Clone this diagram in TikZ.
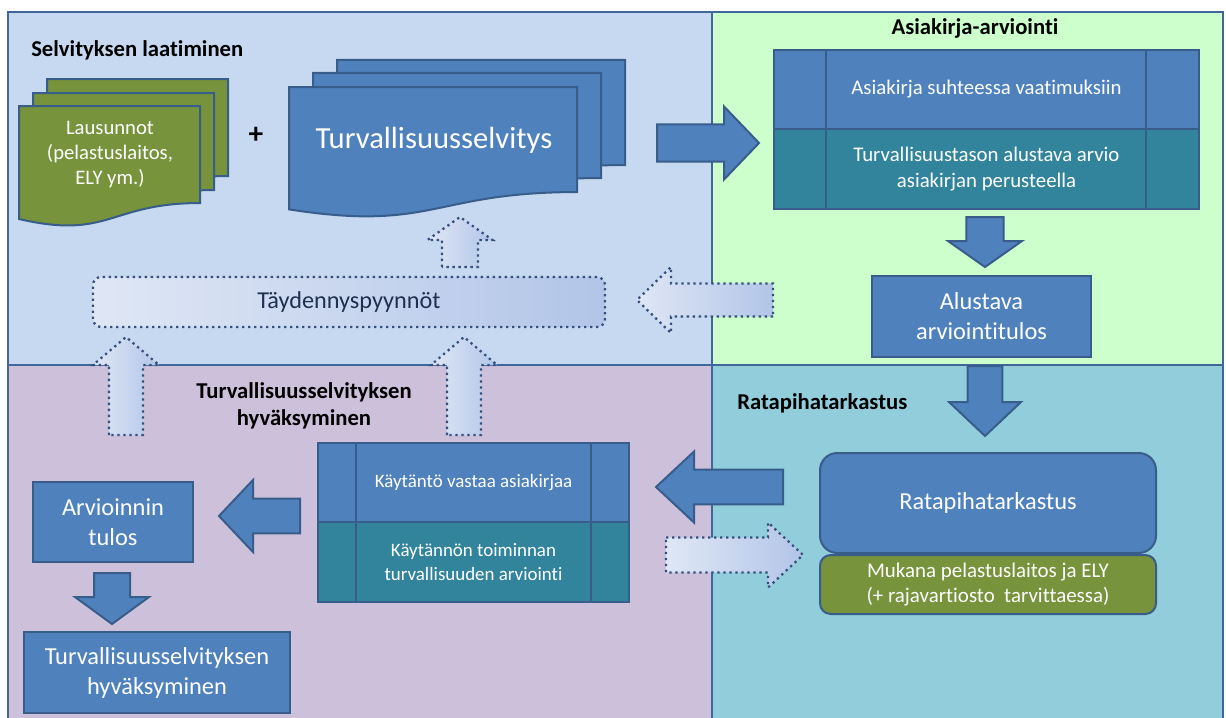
\documentclass[tikz,border=0pt]{standalone}
\usepackage{fontspec}
\setmainfont{Carlito}[Ligatures={NoCommon}]
\usetikzlibrary{calc}
\definecolor{tlback}{HTML}{C6D9F0}
\definecolor{trback}{HTML}{CCFFCC}
\definecolor{blback}{HTML}{CCC0DA}
\definecolor{brback}{HTML}{92CDDC}
\definecolor{frame}{HTML}{41679A}
\definecolor{boxblue}{HTML}{4F81BD}
\definecolor{boxteal}{HTML}{31849B}
\definecolor{boxgreen}{HTML}{77933C}
\definecolor{edge}{HTML}{385D8A}
\definecolor{dotedge}{HTML}{34507E}
\definecolor{fadeA}{HTML}{DFE7F5}
\definecolor{fadeB}{HTML}{B2C5E8}
\definecolor{dottext}{HTML}{1F3050}
% block arrow: [style]{from}{to}{shaft half}{head half}{head length}
\newcommand{\blockarrow}[6][]{%
  \coordinate (ah) at ($(#3)!#6!(#2)$);
  \draw[#1] ($(#2)!#4!90:(#3)$) -- ($(ah)!#4!90:(#3)$) -- ($(ah)!#5!90:(#3)$)
    -- (#3) -- ($(ah)!#5!-90:(#3)$) -- ($(ah)!#4!-90:(#3)$)
    -- ($(#2)!#4!-90:(#3)$) -- cycle;}
% document page with wavy bottom: {x}{y}{w}{h}{fill}
\newcommand{\docpage}[5]{%
  \draw[docline, fill=#5] (#1,#2) -- ({#1+#3},#2) -- ({#1+#3},{#2+0.802*#4})
    .. controls ({#1+0.5*#3},{#2+0.802*#4}) and ({#1+0.5*#3},{#2+1.1075*#4})
    .. (#1,{#2+0.934*#4}) -- cycle;}
\def\pxu{0.75pt}
\begin{document}
\begin{tikzpicture}[x=0.75pt, y=-0.75pt]
	\tikzset{
		title/.style={font=\fontsize{17}{20.5}\selectfont\bfseries, text=black, align=center, inner sep=0pt},
		zone/.style={draw=frame, line width=2.2pt},
		docline/.style={draw=edge, line width=1.5pt, line join=miter},
		cell/.style={draw=edge, line width=1.5pt, text=white, align=center, inner sep=0pt},
		bluebox/.style={cell, fill=boxblue, font=\fontsize{18.3}{22.5}\selectfont},
		solidarrow/.style={draw=edge, line width=1.5pt, fill=boxblue, line join=miter},
		dotarrow/.style={draw=dotedge, line width=1.7pt, dash pattern=on 1.7pt off 2.8pt,
			left color=fadeA, right color=fadeB},
	}
	\useasboundingbox (0,0) rectangle (1226,717);
	% --- 1. Taustat ja kehys ---
	\fill[tlback] (8,12) rectangle (712,365);
	\fill[trback] (712,12) rectangle (1223,365);
	\fill[blback] (8,365) rectangle (712,730);
	\fill[brback] (712,365) rectangle (1223,730);
	\draw[zone] (8,730) -- (8,12) -- (1223,12) -- (1223,730);
	\draw[zone] (712,12) -- (712,730);
	\draw[zone] (8,365) -- (1223,365);
	% --- 2. Selvityksen laatiminen ---
	\node[title, anchor=west] (tSelv) at (31,50) {Selvityksen laatiminen};
	\docpage{47}{79}{181}{121}{boxgreen}
	\docpage{33}{93}{181}{121}{boxgreen}
	\docpage{19}{106}{181}{121}{boxgreen}
	\node[text=white, align=center, font=\fontsize{15.5}{18.75}\selectfont] (lausu) at (110,155)
		{Lausunnot\\(pelastuslaitos,\\ELY ym.)};
	\node[font=\fontsize{22}{24}\selectfont\bfseries] (plus) at (256,135) {+};
	\docpage{337}{60}{288}{131}{boxblue}
	\docpage{313}{73}{288}{131}{boxblue}
	\docpage{289}{87}{288}{131}{boxblue}
	\node[text=white, font=\fontsize{23}{27}\selectfont] (tsel) at (434,140) {Turvallisuusselvitys};
	\node[draw=dotedge, line width=1.7pt, dash pattern=on 1.7pt off 2.8pt, rounded corners=6pt,
		left color=fadeA, right color=fadeB, text=dottext, font=\fontsize{18.2}{22}\selectfont,
		minimum width=512*\pxu, minimum height=50*\pxu] (tayd) at (349,302) {Täydennyspyynnöt};
	% --- 3. Asiakirja-arviointi ---
	\node[title] (tAsia) at (975,28) {Asiakirja-arviointi};
	\node[cell, fill=boxblue, font=\fontsize{15.6}{19.5}\selectfont,
		minimum width=425*\pxu, minimum height=79*\pxu] (asia1) at (986.5,89.5)
		{Asiakirja suhteessa vaatimuksiin};
	\node[cell, fill=boxteal, font=\fontsize{15.6}{19.5}\selectfont,
		minimum width=425*\pxu, minimum height=80*\pxu] (asia2) at (986.5,169)
		{Turvallisuustason alustava arvio\\asiakirjan perusteella};
	\draw[edge, line width=1.5pt] (826,50) -- (826,209);
	\draw[edge, line width=1.5pt] (1146,50) -- (1146,209);
	\node[bluebox, minimum width=219*\pxu, minimum height=81*\pxu] (alust) at (981.5,316.5)
		{Alustava\\arviointitulos};
	% --- 4. Ratapihatarkastus ---
	\node[title, anchor=west] (tRata) at (737,403) {Ratapihatarkastus};
	\node[bluebox, rounded corners=13pt, minimum width=336*\pxu, minimum height=100*\pxu]
		(rata) at (988,503) {Ratapihatarkastus};
	\node[cell, fill=boxgreen, rounded corners=8pt, font=\fontsize{15.7}{19}\selectfont,
		minimum width=336*\pxu, minimum height=59*\pxu] (muka) at (988,584.5)
		{Mukana pelastuslaitos ja ELY\\(+ rajavartiosto\ \ tarvittaessa)};
	% --- 5. Turvallisuusselvityksen hyväksyminen ---
	\node[title] (tHyv) at (304,406) {Turvallisuusselvityksen\\hyväksyminen};
	\node[cell, fill=boxblue, font=\fontsize{14.2}{18}\selectfont,
		minimum width=311*\pxu, minimum height=79*\pxu] (kay1) at (473.5,482.5)
		{Käytäntö vastaa asiakirjaa};
	\node[cell, fill=boxteal, font=\fontsize{14.2}{18}\selectfont,
		minimum width=311*\pxu, minimum height=80*\pxu] (kay2) at (473.5,562)
		{Käytännön toiminnan\\turvallisuuden arviointi};
	\draw[edge, line width=1.5pt] (356,443) -- (356,602);
	\draw[edge, line width=1.5pt] (591,443) -- (591,602);
	\node[bluebox, minimum width=160*\pxu, minimum height=80*\pxu] (arv) at (113,522)
		{Arvioinnin\\tulos};
	\node[bluebox, minimum width=266*\pxu, minimum height=81*\pxu] (hyv) at (157,672.5)
		{Turvallisuusselvityksen\\hyväksyminen};
	% --- 6. Nuolet ---
	\coordinate (a1s) at (657,143);  \coordinate (a1e) at (759,143);
	\coordinate (a2s) at (985,217);  \coordinate (a2e) at (985,267);
	\coordinate (a3s) at (773,300);  \coordinate (a3e) at (637,300);
	\coordinate (a4s) at (460,267);  \coordinate (a4e) at (460,217);
	\coordinate (a5s) at (126,435);  \coordinate (a5e) at (126,337);
	\coordinate (a6s) at (464,435);  \coordinate (a6e) at (464,337);
	\coordinate (a7s) at (985,366);  \coordinate (a7e) at (985,436);
	\coordinate (a8s) at (783,487);  \coordinate (a8e) at (656,487);
	\coordinate (a9s) at (666,555);  \coordinate (a9e) at (803,555);
	\coordinate (a10s) at (300,516); \coordinate (a10e) at (219,516);
	\coordinate (a11s) at (112,573); \coordinate (a11e) at (112,624);
	\blockarrow[solidarrow]{a1s}{a1e}{13.9pt}{27.4pt}{26.25pt}
	\blockarrow[solidarrow]{a2s}{a2e}{13.9pt}{27.75pt}{19.5pt}
	\blockarrow[dotarrow]{a3s}{a3e}{12.4pt}{24.75pt}{25.5pt}
	\blockarrow[dotarrow]{a4s}{a4e}{13.5pt}{24.4pt}{17.25pt}
	\blockarrow[dotarrow]{a5s}{a5e}{12.75pt}{24.75pt}{21pt}
	\blockarrow[dotarrow]{a6s}{a6e}{12.75pt}{24.75pt}{21pt}
	\blockarrow[solidarrow]{a7s}{a7e}{13.1pt}{27pt}{25.5pt}
	\blockarrow[solidarrow]{a8s}{a8e}{13.1pt}{26.6pt}{28.5pt}
	\blockarrow[dotarrow]{a9s}{a9e}{13.1pt}{24.4pt}{26.25pt}
	\blockarrow[solidarrow]{a10s}{a10e}{13.1pt}{27pt}{25.5pt}
	\blockarrow[solidarrow]{a11s}{a11e}{13.5pt}{27.75pt}{20.25pt}
\end{tikzpicture}
\end{document}
